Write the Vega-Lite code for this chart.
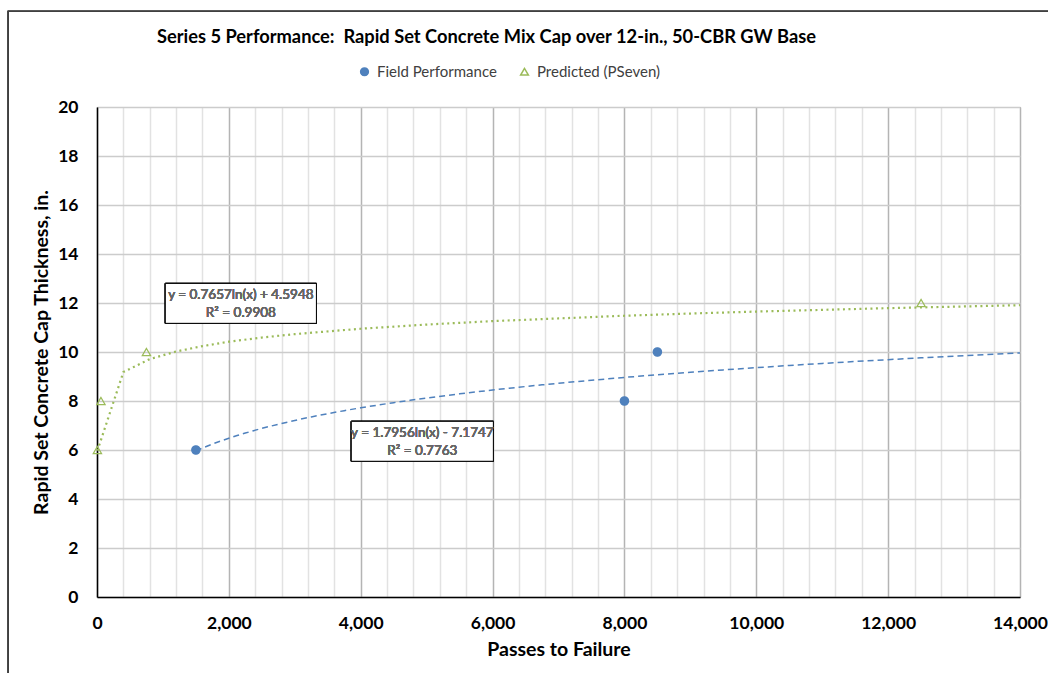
{
  "$schema": "https://vega.github.io/schema/vega-lite/v6.json",
  "width": 923,
  "height": 490,
  "autosize": "none",
  "padding": {"left": 97, "top": 107, "right": 28, "bottom": 76},
  "background": "white",
  "title": {
    "text": "Series 5 Performance:\u00a0 Rapid Set Concrete Mix Cap over 12-in., 50-CBR GW Base",
    "font": "Lato",
    "fontSize": 18.3,
    "fontWeight": "bold",
    "color": "#000000",
    "anchor": "middle",
    "offset": -36,
    "dx": -72
  },
  "config": {
    "font": "Lato",
    "view": {"stroke": "#8c8c8c", "strokeWidth": 1},
    "axis": {
      "labelFont": "Lato",
      "labelFontWeight": "bold",
      "labelFontSize": 17.5,
      "labelColor": "#000000",
      "titleFont": "Lato",
      "titleFontWeight": "bold",
      "titleFontSize": 19.5,
      "titleColor": "#000000",
      "ticks": false,
      "domainColor": "#000000",
      "domainWidth": 1.5
    }
  },
  "datasets": {
    "points": [
      {"series": "Field Performance", "passes": 1500, "thickness": 6},
      {"series": "Field Performance", "passes": 8000, "thickness": 8},
      {"series": "Field Performance", "passes": 8500, "thickness": 10},
      {"series": "Predicted (PSeven)", "passes": 6, "thickness": 6},
      {"series": "Predicted (PSeven)", "passes": 60, "thickness": 8},
      {"series": "Predicted (PSeven)", "passes": 750, "thickness": 10},
      {"series": "Predicted (PSeven)", "passes": 12500, "thickness": 12}
    ],
    "predictedTrend": [
      {"passes": 6, "thickness": 5.97},
      {"passes": 400, "thickness": 9.18},
      {"passes": 800, "thickness": 9.71},
      {"passes": 1200, "thickness": 10.02},
      {"passes": 1600, "thickness": 10.24},
      {"passes": 2000, "thickness": 10.42},
      {"passes": 2500, "thickness": 10.59},
      {"passes": 3000, "thickness": 10.73},
      {"passes": 4000, "thickness": 10.95},
      {"passes": 5000, "thickness": 11.12},
      {"passes": 6000, "thickness": 11.26},
      {"passes": 7000, "thickness": 11.37},
      {"passes": 8000, "thickness": 11.48},
      {"passes": 9000, "thickness": 11.57},
      {"passes": 10000, "thickness": 11.65},
      {"passes": 11000, "thickness": 11.72},
      {"passes": 12000, "thickness": 11.79},
      {"passes": 13000, "thickness": 11.85},
      {"passes": 14000, "thickness": 11.91}
    ]
  },
  "data": {"name": "points"},
  "encoding": {
    "x": {
      "field": "passes",
      "type": "quantitative",
      "scale": {"domain": [0, 14000], "nice": false},
      "axis": {
        "title": "Passes to Failure",
        "values": [0, 400, 800, 1200, 1600, 2000, 2400, 2800, 3200, 3600, 4000, 4400, 4800, 5200, 5600, 6000, 6400, 6800, 7200, 7600, 8000, 8400, 8800, 9200, 9600, 10000, 10400, 10800, 11200, 11600, 12000, 12400, 12800, 13200, 13600, 14000],
        "labelExpr": "datum.value % 2000 === 0 ? format(datum.value, ',') : ''",
        "gridColor": {"condition": {"test": "datum.value % 2000 === 0", "value": "#b4b4b4"}, "value": "#e2e2e2"},
        "gridWidth": 1.5,
        "labelPadding": 17,
        "titlePadding": 9,
        "labelFlush": false,
        "labelOverlap": false
      }
    },
    "y": {
      "field": "thickness",
      "type": "quantitative",
      "scale": {"domain": [0, 20], "nice": false},
      "axis": {
        "title": "Rapid Set Concrete Cap Thickness, in.",
        "values": [0, 2, 4, 6, 8, 10, 12, 14, 16, 18, 20],
        "gridColor": "#cccccc",
        "gridWidth": 1.5,
        "labelPadding": 19,
        "titlePadding": 6
      }
    }
  },
  "layer": [
    {
      "mark": {"type": "rect", "fill": null, "stroke": "#404040", "strokeWidth": 1.2},
      "encoding": {
        "x": {"datum": -1346},
        "x2": {"datum": 15000},
        "y": {"datum": 23.9},
        "y2": {"datum": -3.6}
      }
    },
    {
      "data": {"name": "predictedTrend"},
      "mark": {"type": "line", "color": "#9bbb59", "strokeWidth": 2.2, "strokeDash": [2, 3.5]}
    },
    {
      "transform": [
        {"filter": "datum.series === 'Field Performance'"},
        {"regression": "thickness", "on": "passes", "method": "log", "extent": [1500, 14000]}
      ],
      "mark": {"type": "line", "color": "#4f81bd", "strokeWidth": 1.5, "strokeDash": [6, 4]}
    },
    {
      "mark": {"type": "point", "opacity": 1, "strokeWidth": 1.2, "size": 70},
      "encoding": {
        "shape": {
          "field": "series",
          "type": "nominal",
          "scale": {"domain": ["Field Performance", "Predicted (PSeven)"], "range": ["circle", "triangle-up"]},
          "legend": {
            "title": null,
            "orient": "none",
            "direction": "horizontal",
            "legendX": 260,
            "legendY": -43,
            "labelFont": "Lato",
            "labelFontSize": 15,
            "labelColor": "#404040",
            "symbolSize": 60,
            "columnPadding": 20,
            "labelOffset": 5
          }
        },
        "fill": {
          "field": "series",
          "type": "nominal",
          "scale": {"domain": ["Field Performance", "Predicted (PSeven)"], "range": ["#4f81bd", "transparent"]},
          "legend": {"title": null}
        },
        "stroke": {
          "field": "series",
          "type": "nominal",
          "scale": {"domain": ["Field Performance", "Predicted (PSeven)"], "range": ["#4f81bd", "#9bbb59"]},
          "legend": {"title": null}
        }
      }
    },
    {
      "mark": {"type": "rect", "fill": "white", "stroke": "#000000", "strokeWidth": 1},
      "encoding": {
        "x": {"datum": 1036},
        "x2": {"datum": 3328},
        "y": {"datum": 12.8},
        "y2": {"datum": 11.17}
      }
    },
    {
      "mark": {"type": "rect", "fill": "white", "stroke": "#000000", "strokeWidth": 1},
      "encoding": {
        "x": {"datum": 3857},
        "x2": {"datum": 6012},
        "y": {"datum": 7.17},
        "y2": {"datum": 5.54}
      }
    },
    {
      "mark": {"type": "text", "font": "Lato", "fontSize": 13.5, "color": "#666666", "align": "center", "baseline": "middle"},
      "encoding": {"x": {"datum": 2182}, "y": {"datum": 12.31}, "text": {"value": "y = 0.7657ln(x) + 4.5948"}}
    },
    {
      "mark": {"type": "text", "font": "Lato", "fontSize": 13.5, "color": "#666666", "align": "center", "baseline": "middle"},
      "encoding": {"x": {"datum": 2182}, "y": {"datum": 11.58}, "text": {"value": "R² = 0.9908"}}
    },
    {
      "mark": {"type": "text", "font": "Lato", "fontSize": 13.5, "color": "#666666", "align": "center", "baseline": "middle"},
      "encoding": {"x": {"datum": 4935}, "y": {"datum": 6.68}, "text": {"value": "y = 1.7956ln(x) - 7.1747"}}
    },
    {
      "mark": {"type": "text", "font": "Lato", "fontSize": 13.5, "color": "#666666", "align": "center", "baseline": "middle"},
      "encoding": {"x": {"datum": 4935}, "y": {"datum": 5.95}, "text": {"value": "R² = 0.7763"}}
    }
  ]
}
